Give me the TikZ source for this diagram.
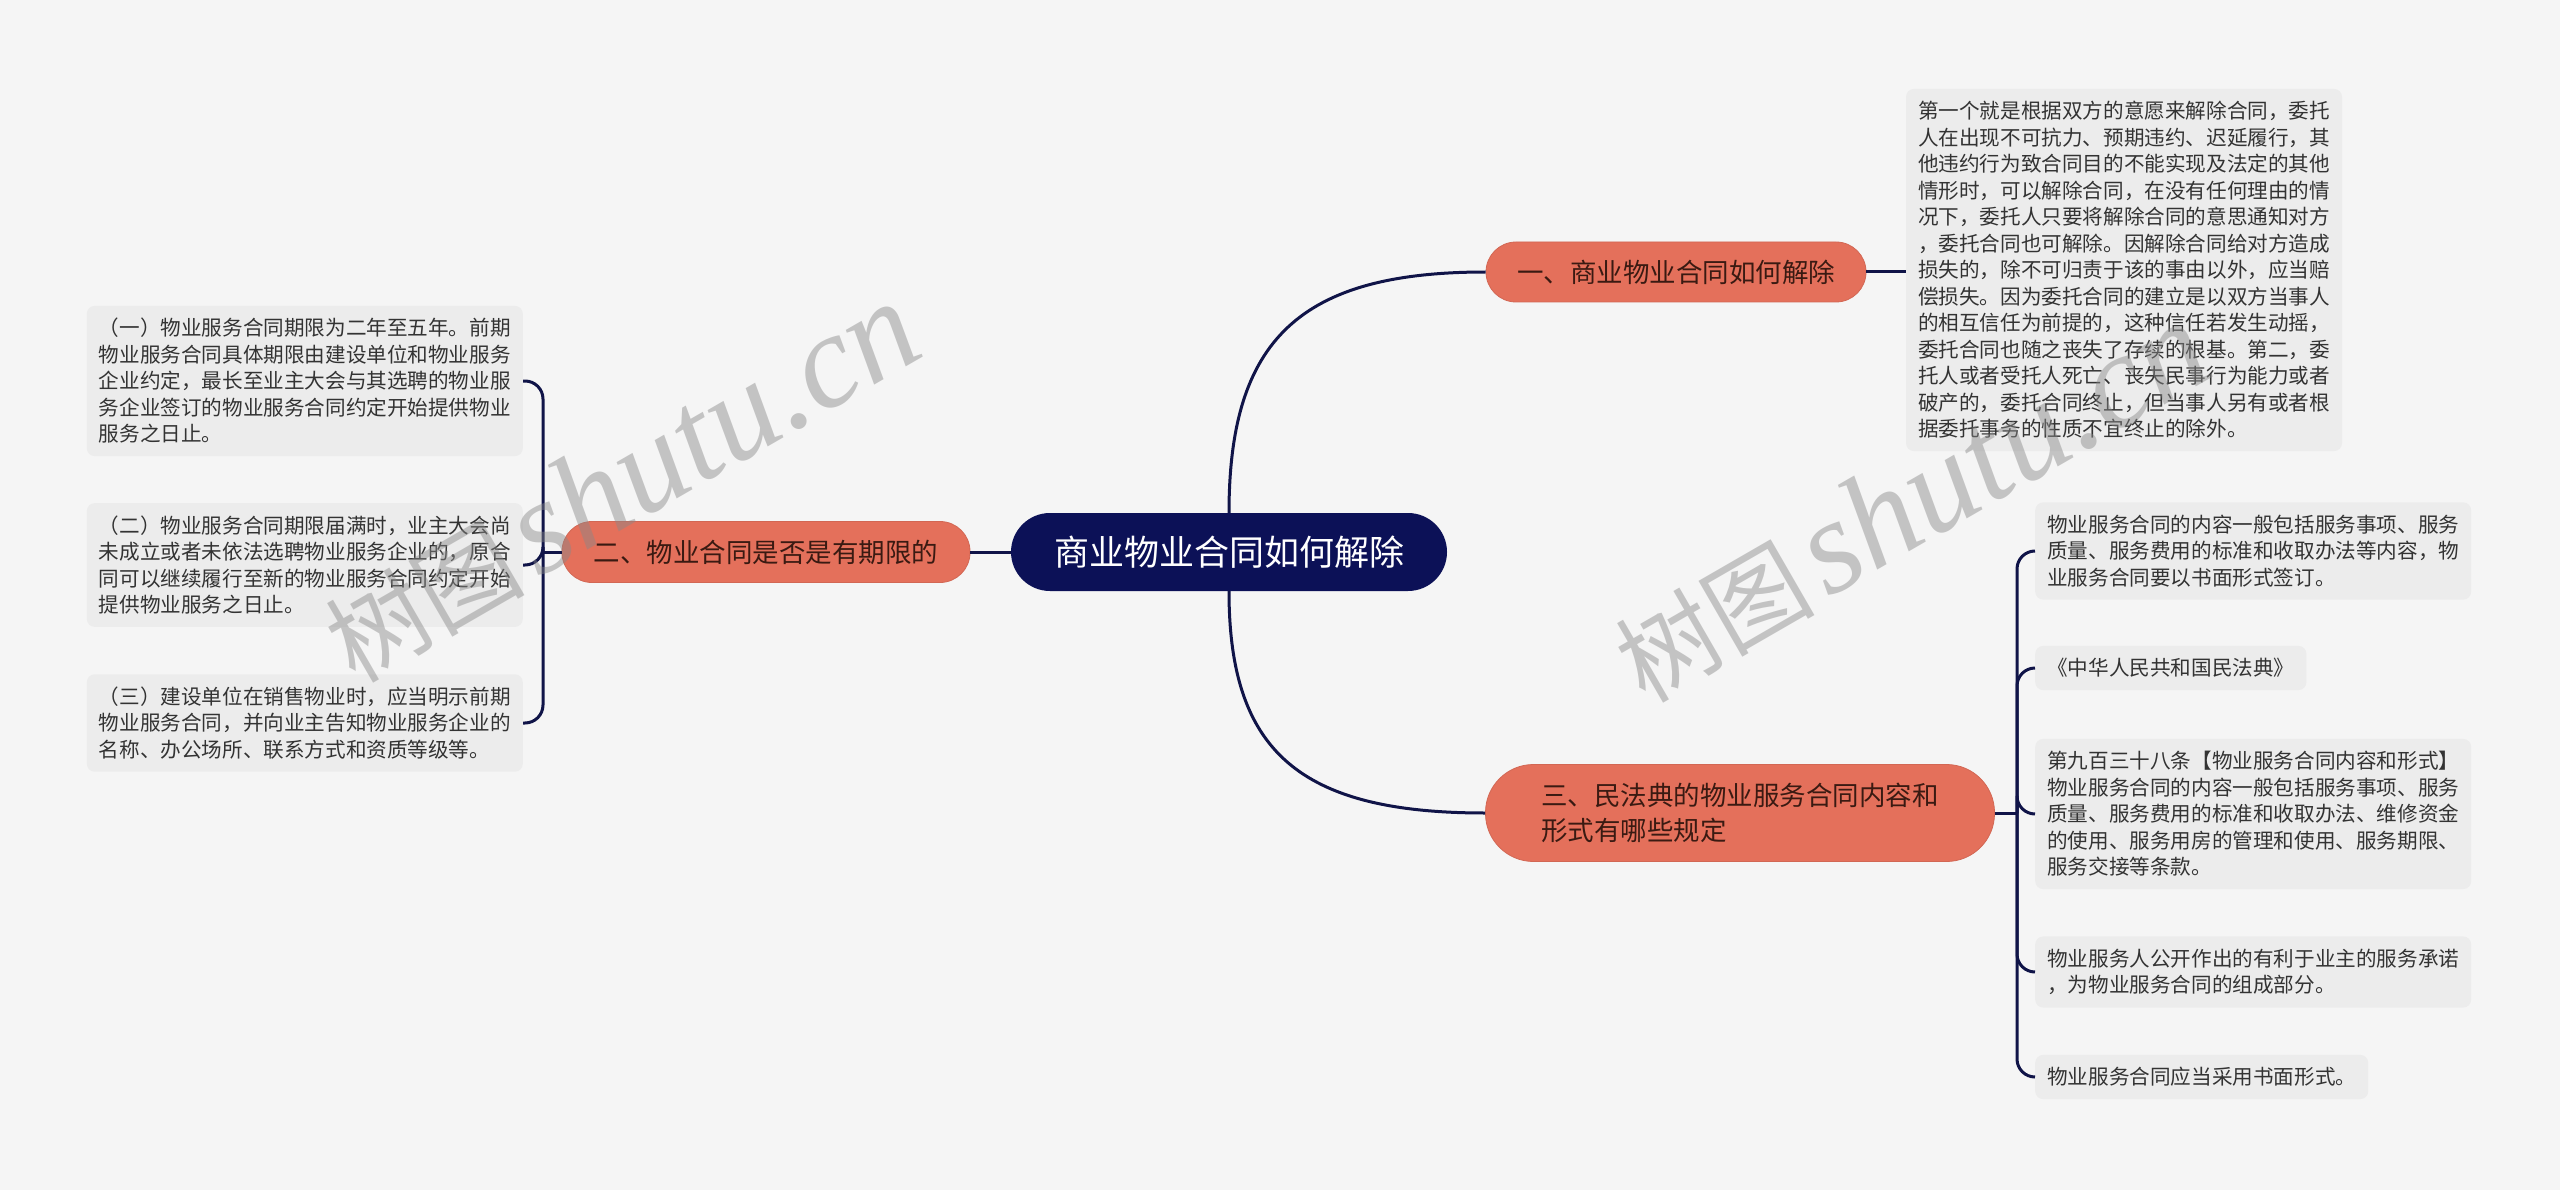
\documentclass[tikz,border=0pt]{standalone}
\usepackage{fontspec}
\newfontfamily\cjk{Noto Sans CJK SC}
\newfontfamily\wmserif{Liberation Serif}
\definecolor{bgc}{HTML}{F5F5F5}
\definecolor{navy}{HTML}{0C1157}
\definecolor{salmon}{HTML}{E4705B}
\definecolor{leafbg}{HTML}{ECECEC}
\definecolor{leaftxt}{HTML}{333333}
\definecolor{brtxt}{HTML}{3A1A12}
\definecolor{linec}{HTML}{101448}
\definecolor{wmc}{HTML}{888888}
\begin{document}
\begin{tikzpicture}[x=1pt,y=-1pt,
  conn/.style={draw=linec, line width=3pt},
  centernode/.style={fill=navy, text=white, rounded corners=39pt, minimum width=436pt, minimum height=78pt, inner sep=2pt, font=\cjk\fontsize{35}{42}\selectfont},
  branchnode/.style={fill=salmon, draw=salmon!92!black, line width=0.8pt, text=brtxt, inner sep=2pt, font=\cjk\fontsize{26.5}{35}\selectfont, align=left},
  leafnode/.style={fill=leafbg, text=leaftxt, rounded corners=8pt, inner xsep=12pt, inner ysep=12.5pt, font=\cjk\fontsize{20.6}{26.5}\selectfont, align=left},
  wm/.style={text=wmc, opacity=0.45, rotate=30, anchor=base west, inner sep=0pt}
]
\fill[bgc] (0,0) rectangle (2560,1190);
\useasboundingbox (0,0) rectangle (2560,1190);

% central and main branches
\node[centernode] (c) at (1229,552) {商业物业合同如何解除};
\node[branchnode, rounded corners=30pt, minimum width=380pt, minimum height=60pt] (b1) at (1676,272) {一、商业物业合同如何解除};
\node[branchnode, rounded corners=30pt, minimum width=408pt, minimum height=61pt] (b2) at (766,552) {二、物业合同是否是有期限的};
\node[branchnode, rounded corners=48pt, minimum width=509pt, minimum height=97pt] (b3) at (1740,813) {三、民法典的物业服务合同内容和\\形式有哪些规定};

% leaves of branch 1
\node[leafnode] (l1) at (2124,270) {第一个就是根据双方的意愿来解除合同，委托\\人在出现不可抗力、预期违约、迟延履行，其\\他违约行为致合同目的不能实现及法定的其他\\情形时，可以解除合同，在没有任何理由的情\\况下，委托人只要将解除合同的意思通知对方\\，委托合同也可解除。因解除合同给对方造成\\损失的，除不可归责于该的事由以外，应当赔\\偿损失。因为委托合同的建立是以双方当事人\\的相互信任为前提的，这种信任若发生动摇，\\委托合同也随之丧失了存续的根基。第二，委\\托人或者受托人死亡、丧失民事行为能力或者\\破产的，委托合同终止，但当事人另有或者根\\据委托事务的性质不宜终止的除外。};

% leaves of branch 2
\node[leafnode, anchor=east] (l2a) at (523,381) {（一）物业服务合同期限为二年至五年。前期\\物业服务合同具体期限由建设单位和物业服务\\企业约定，最长至业主大会与其选聘的物业服\\务企业签订的物业服务合同约定开始提供物业\\服务之日止。};
\node[leafnode, anchor=east] (l2b) at (523,565) {（二）物业服务合同期限届满时，业主大会尚\\未成立或者未依法选聘物业服务企业的，原合\\同可以继续履行至新的物业服务合同约定开始\\提供物业服务之日止。};
\node[leafnode, anchor=east] (l2c) at (523,723) {（三）建设单位在销售物业时，应当明示前期\\物业服务合同，并向业主告知物业服务企业的\\名称、办公场所、联系方式和资质等级等。};

% leaves of branch 3
\node[leafnode, anchor=west] (l3a) at (2035,551) {物业服务合同的内容一般包括服务事项、服务\\质量、服务费用的标准和收取办法等内容，物\\业服务合同要以书面形式签订。};
\node[leafnode, anchor=west] (l3b) at (2035,668) {《中华人民共和国民法典》};
\node[leafnode, anchor=west] (l3c) at (2035,814) {第九百三十八条【物业服务合同内容和形式】\\物业服务合同的内容一般包括服务事项、服务\\质量、服务费用的标准和收取办法、维修资金\\的使用、服务用房的管理和使用、服务期限、\\服务交接等条款。};
\node[leafnode, anchor=west] (l3d) at (2035,972) {物业服务人公开作出的有利于业主的服务承诺\\，为物业服务合同的组成部分。};
\node[leafnode, anchor=west] (l3e) at (2035,1077) {物业服务合同应当采用书面形式。};

% connectors
\draw[conn] (c.north) .. controls +(0,-173) and +(-186,0) .. (b1.west);
\draw[conn] (c.south) .. controls +(0,160) and +(-186,0) .. (b3.west);
\draw[conn] (c.west) -- (b2.east);
\draw[conn] (b1.east) -- (b1.east -| l1.west);

\coordinate (j2) at (543,552);
\draw[conn] (b2.west) -- (j2);
\foreach \n in {l2a,l2b,l2c}{
  \draw[conn, rounded corners=18pt] (j2) |- (\n.east);
}

\coordinate (j3) at (2017,813);
\draw[conn] (b3.east) -- (j3);
\foreach \n in {l3a,l3b,l3c,l3d,l3e}{
  \draw[conn, rounded corners=18pt] (j3) |- (\n.west);
}

% watermarks
\node[wm] (wm1) at (355,685) {{\cjk\fontsize{100}{100}\selectfont 树图}\hspace{12pt}{\wmserif\itshape\fontsize{134}{134}\selectfont shutu.cn}};
\node[wm] (wm2) at (1645,705) {{\cjk\fontsize{100}{100}\selectfont 树图}\hspace{12pt}{\wmserif\itshape\fontsize{134}{134}\selectfont shutu.cn}};
\end{tikzpicture}
\end{document}
